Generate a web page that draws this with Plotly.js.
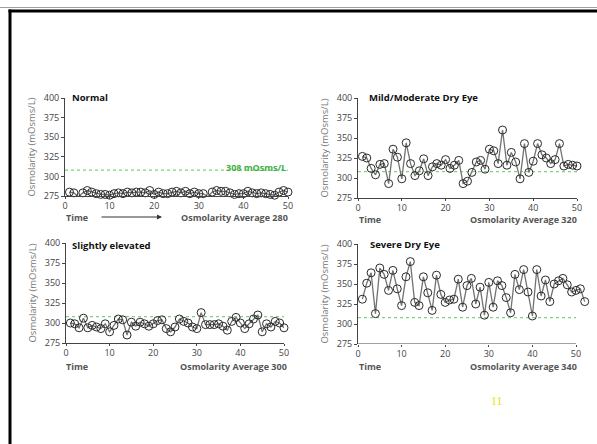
<!DOCTYPE html>
<html><head><meta charset="utf-8">
<script src="https://cdn.plot.ly/plotly-3.0.1.min.js"></script>
<style>html,body{margin:0;padding:0;background:#fff}#chart{width:597px;height:444px}</style>
</head><body><div id="chart"></div>
<script>
// ---- data (osmolarity readings, mOsms/L) ----
const normalVals = [280,279,274,279,282,280,278,277,277,276,278,279,278,280,279,280,280,279,282,277,280,278,278,280,281,279,281,278,280,278,278,274,280,282,281,281,279,277,278,278,281,279,278,279,278,277,276,280,282,280];
const mildVals = [327,325,312,304,317,318,293,336,326,299,344,318,303,309,324,303,314,318,316,323,312,316,322,293,296,307,320,322,311,336,334,318,360,316,332,320,299,343,307,321,343,329,325,318,323,343,315,317,316,315];
const slightVals = [300,299,294,306,294,297,295,293,299,289,297,305,304,285,301,296,301,299,296,299,303,304,293,289,295,305,302,300,295,293,313,298,298,298,299,296,291,302,307,300,293,299,305,310,289,299,295,302,300,294];
const severeVals = [331,351,364,313,370,362,342,367,344,323,359,378,327,323,359,339,317,361,337,327,330,331,356,321,348,357,325,346,311,352,321,354,348,333,314,362,343,368,340,310,368,335,355,328,350,354,357,349,340,342,344,328];
const threshold = 308;
const panelTitles = ["Normal", "Mild/Moderate Dry Eye", "Slightly elevated", "Severe Dry Eye"];
const averages = [280, 320, 300, 340];
const yTicks = [275, 300, 325, 350, 375, 400];
const xTicks = [0, 10, 20, 30, 40, 50];

const W = 597, H = 444;
const px = x => x / W, py = y => 1 - y / H;
const series = [normalVals, mildVals, slightVals, severeVals];

const traces = [];
series.forEach((vals, k) => {
  const n = k + 1;
  const xa = n === 1 ? 'x' : 'x' + n, ya = n === 1 ? 'y' : 'y' + n;
  traces.push({
    x: [0, 50], y: [threshold, threshold], xaxis: xa, yaxis: ya,
    type: 'scatter', mode: 'lines', line: {color: '#7fd27f', width: 1.2, dash: 'dot'},
    hoverinfo: 'skip', showlegend: false
  });
  traces.push({
    x: vals.map((v, i) => i + 1), y: vals, xaxis: xa, yaxis: ya,
    type: 'scatter', mode: 'lines+markers', cliponaxis: false,
    line: {color: '#727272', width: 1.3},
    marker: {symbol: 'circle-open', size: 8, color: '#2a2a2a', line: {width: 1, color: '#2a2a2a'}},
    hoverinfo: 'skip', showlegend: false
  });
});

const fontFam = '"Open Sans", "DejaVu Sans", sans-serif';
const tickFont = {family: fontFam, size: 9, color: '#444'};
function xaxis(n, domain, range, showline) {
  return {anchor: n === 1 ? 'y' : 'y' + n, domain, range, tickvals: xTicks, ticks: 'outside', ticklen: 2, tickcolor: '#444',
    ticklabelstandoff: -1,
    showline, linecolor: '#444', linewidth: 1, showgrid: false, zeroline: false,
    tickfont: tickFont, fixedrange: true};
}
function yaxis(n, domain) {
  return {anchor: n === 1 ? 'x' : 'x' + n, domain, range: [275, 400], tickvals: yTicks, ticks: 'outside', ticklen: 3, tickcolor: '#444',
    showline: true, linecolor: '#444', linewidth: 1, showgrid: false, zeroline: false,
    tickfont: tickFont, fixedrange: true,
    title: {text: 'Osmolarity (mOsms/L)', font: {family: fontFam, size: 9.5, color: '#777'}, standoff: 6}};
}

const layout = {
  width: W, height: H, margin: {l: 0, r: 0, t: 0, b: 0},
  paper_bgcolor: '#fff', plot_bgcolor: 'rgba(0,0,0,0)',
  xaxis: xaxis(1, [px(65), px(288)], [0, 50], true),
  yaxis: yaxis(1, [py(196), py(98)]),
  xaxis2: xaxis(2, [px(358), px(577)], [0, 50], true),
  yaxis2: yaxis(2, [py(198), py(98)]),
  xaxis3: xaxis(3, [px(66), px(284)], [0, 50], true),
  yaxis3: yaxis(3, [py(343), py(243)]),
  xaxis4: xaxis(4, [px(358), px(358 + 52.6 * 4.36)], [0, 52.6], false),
  yaxis4: yaxis(4, [py(344), py(244)]),
  shapes: [
    {type: 'line', xref: 'x4', yref: 'y4', x0: 0, x1: 50, y0: 275, y1: 275, line: {color: '#444', width: 1}},
    {type: 'line', xref: 'paper', yref: 'paper', x0: 0, x1: 1, y0: py(7.5), y1: py(7.5), line: {color: '#a0a0a0', width: 1}},
    {type: 'line', xref: 'paper', yref: 'paper', x0: px(8.5), x1: 1, y0: py(11), y1: py(11), line: {color: '#000', width: 3}},
    {type: 'line', xref: 'paper', yref: 'paper', x0: px(10), x1: px(10), y0: 0, y1: py(9.5), line: {color: '#000', width: 3}}
  ],
  annotations: []
};

const titlePos = [[70, 98], [367, 98], [70, 245], [368, 244]];
const timePos = [[64, 217], [357, 219.5], [64, 366], [357, 366]];
const avgPos = [[290, 217], [579, 219.5], [289, 366], [579, 366]];
panelTitles.forEach((t, k) => {
  layout.annotations.push({text: '<b>' + t + '</b>', xref: 'paper', yref: 'paper', x: px(titlePos[k][0]), y: py(titlePos[k][1]),
    xanchor: 'left', yanchor: 'middle', showarrow: false, font: {family: fontFam, size: 9.5, color: '#111'}});
  layout.annotations.push({text: '<b>Time</b>', xref: 'paper', yref: 'paper', x: px(timePos[k][0]), y: py(timePos[k][1]),
    xanchor: 'left', yanchor: 'middle', showarrow: false, font: {family: fontFam, size: 9, color: '#555'}});
  layout.annotations.push({text: '<b>Osmolarity Average ' + averages[k] + '</b>', xref: 'paper', yref: 'paper', x: px(avgPos[k][0]), y: py(avgPos[k][1]),
    xanchor: 'right', yanchor: 'middle', showarrow: false, font: {family: fontFam, size: 9, color: '#555'}});
});
layout.annotations.push({text: '', xref: 'paper', yref: 'paper', x: px(162), y: py(217), ax: px(100), ay: py(217),
  axref: 'paper', ayref: 'paper', showarrow: true, arrowhead: 2, arrowsize: 1, arrowwidth: 1, arrowcolor: '#333'});
layout.annotations.push({text: '<b>' + threshold + ' mOsms/L</b>', xref: 'paper', yref: 'paper', x: px(288), y: py(167),
  xanchor: 'right', yanchor: 'middle', showarrow: false, font: {family: fontFam, size: 9, color: '#3cb043'}});
layout.annotations.push({text: '11', xref: 'paper', yref: 'paper', x: px(497), y: py(401),
  xanchor: 'center', yanchor: 'middle', showarrow: false, font: {family: '"Liberation Serif", serif', size: 12, color: '#e6e600'}});

Plotly.newPlot('chart', traces, layout, {staticPlot: true, displayModeBar: false});
</script></body></html>
